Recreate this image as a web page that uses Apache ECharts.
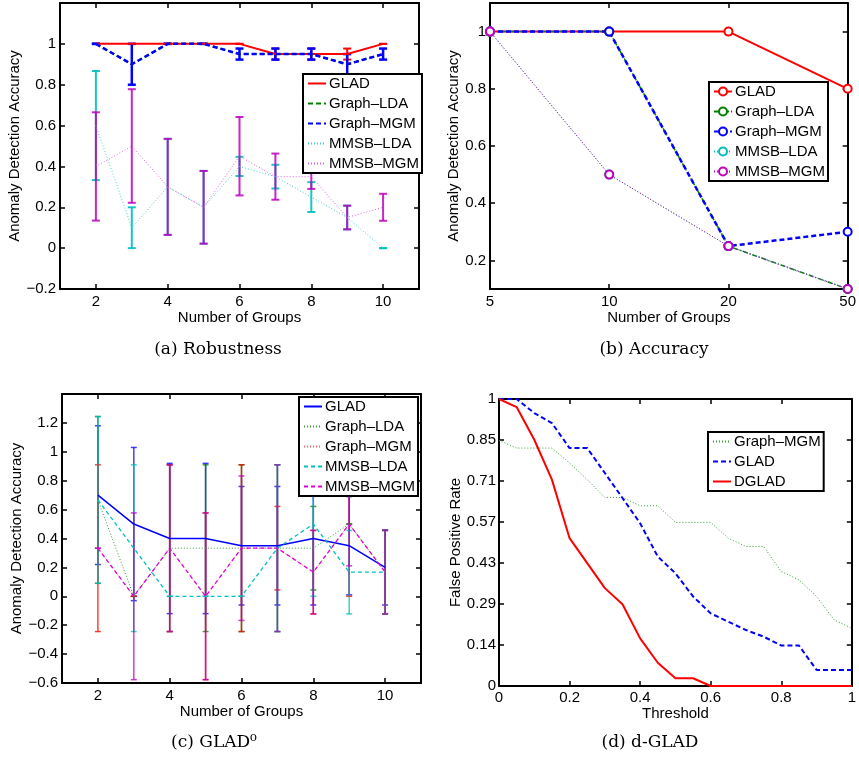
<!DOCTYPE html>
<html>
<head>
<meta charset="utf-8">
<script src="https://cdn.jsdelivr.net/npm/echarts@6/dist/echarts.min.js"></script>
<style>
  html, body { margin: 0; padding: 0; background: #fff; }
  #chart { width: 859px; height: 759px; }
</style>
</head>
<body>
<div id="chart"></div>
<script>
// ---- (a) Robustness ----
const groupsA = [2, 3, 4, 5, 6, 7, 8, 9, 10];
const gladA = [1, 1, 1, 1, 1, 0.95, 0.95, 0.95, 1];
const gladErrA = [0, 0, 0, 0, 0, 0.027, 0.027, 0.027, 0];
const graphLdaA = [1, 0.9, 1, 1, 0.95, 0.95, 0.95, 0.9, 0.95];
const graphMgmA = [1, 0.9, 1, 1, 0.95, 0.95, 0.95, 0.9, 0.95];
const graphMgmErrA = [0, 0.1, 0, 0, 0.027, 0.027, 0.027, 0.05, 0.027];
const mmsbLdaA = [0.6, 0.1, 0.3, 0.2, 0.4, 0.35, 0.25, 0.15, 0];
const mmsbLdaErrA = [0.267, 0.1, 0.235, 0.178, 0.047, 0.058, 0.073, 0.058, 0];
const mmsbMgmA = [0.4, 0.5, 0.3, 0.2, 0.45, 0.35, 0.35, 0.15, 0.2];
const mmsbMgmErrA = [0.265, 0.278, 0.235, 0.178, 0.192, 0.113, 0.06, 0.058, 0.066];

// ---- (b) Accuracy ----
const groupsB = ['5', '10', '20', '50'];
const gladB = [1, 1, 1, 0.8];
const graphLdaB = [1, 1, 0.25, 0.1];
const graphMgmB = [1, 1, 0.25, 0.3];
const mmsbLdaB = [1, 0.5, 0.25, 0.1];
const mmsbMgmB = [1, 0.5, 0.25, 0.1];

// ---- (c) GLAD0 ----
const groupsC = [2, 3, 4, 5, 6, 7, 8, 9, 10];
const gladC = [0.7, 0.5, 0.4, 0.4, 0.35, 0.35, 0.4, 0.35, 0.2];
const gladErrC = [0.48, 0.53, 0.52, 0.52, 0.41, 0.41, 0.46, 0.34, 0.26];
const graphLdaC = [0.667, 0, 0.333, 0.333, 0.333, 0.333, 0.333, 0.5, 0.167];
const graphLdaErrC = [0.577, 0, 0.577, 0.577, 0.577, 0.577, 0.289, 0, 0.289];
const graphMgmC = [0.333, 0, 0.333, 0, 0.333, 0.333, 0.167, 0.5, 0.167];
const graphMgmErrC = [0.577, 0, 0.577, 0.577, 0.577, 0.289, 0.289, 0.5, 0.289];
const mmsbLdaC = [0.667, 0.333, 0, 0, 0, 0.333, 0.5, 0.167, 0.167];
const mmsbLdaErrC = [0.577, 0.577, 0, 0, 0, 0.577, 0.5, 0.289, 0.289];
const mmsbMgmC = [0.333, 0, 0.333, 0, 0.333, 0.333, 0.167, 0.5, 0.167];
const mmsbMgmErrC = [0, 0.577, 0.577, 0.577, 0.5, 0.577, 0.289, 0.289, 0.289];

// ---- (d) d-GLAD ----
const thresholdD = [0, 0.05, 0.1, 0.15, 0.2, 0.25, 0.3, 0.35, 0.4, 0.45, 0.5,
  0.55, 0.6, 0.65, 0.7, 0.75, 0.8, 0.85, 0.9, 0.95, 1];
const graphMgmD = [0.856, 0.829, 0.829, 0.829, 0.777, 0.719, 0.657, 0.657, 0.628, 0.628, 0.57,
  0.57, 0.57, 0.515, 0.486, 0.486, 0.399, 0.37, 0.312, 0.23, 0.201];
const gladD = [1, 1, 0.951, 0.916, 0.829, 0.829, 0.742, 0.655, 0.567, 0.451, 0.393,
  0.312, 0.253, 0.224, 0.195, 0.172, 0.141, 0.141, 0.056, 0.056, 0.056];
const dgladD = [1, 0.972, 0.858, 0.719, 0.515, 0.428, 0.341, 0.285, 0.166, 0.081, 0.027,
  0.027, 0, 0, 0, 0, 0, 0, 0, 0, 0];
const yTickLabelsD = ['0', '0.14', '0.29', '0.43', '0.57', '0.71', '0.85', '1'];

const FONT = 'Liberation Sans';
const RED = '#ff0000', GREEN = '#008000', BLUE = '#0000ff', CYAN = '#00bfbf', MAG = '#bf00bf';
const DOT = [1, 2], DASH = [5, 3], DASHDOT = [5, 2, 1, 2];

const chart = echarts.init(document.getElementById('chart'));

function fmt(v) {
  return String(Math.round(v * 100) / 100).replace('-', '\u2212');
}

function axis(grid, pos, spec) {
  const main = pos === 'bottom' || pos === 'left';
  return Object.assign({
    gridIndex: grid,
    position: pos,
    axisLine: { show: true, onZero: false, lineStyle: { color: '#000', width: 2 } },
    axisTick: Object.assign({ show: true, inside: true, length: 5, lineStyle: { color: '#000', width: 1.5 } }, spec.tick || {}),
    axisLabel: Object.assign({ show: main, color: '#000', fontFamily: FONT, fontSize: 15, formatter: fmt }, spec.label || {}),
    splitLine: { show: false },
    name: main ? spec.name : '',
    nameLocation: 'middle',
    nameGap: spec.nameGap,
    nameTextStyle: { color: '#000', fontFamily: FONT, fontSize: 15 }
  }, spec.axis);
}

function pairs(xs, ys) {
  return xs.map((x, i) => [x, ys[i]]);
}

function line(name, xi, data, color, width, dash, extra) {
  return Object.assign({
    name: name, type: 'line', xAxisIndex: xi, yAxisIndex: xi, data: data,
    symbol: 'none', animation: false, silent: true,
    lineStyle: { color: color, width: width, type: dash || 'solid' },
    itemStyle: { color: color }
  }, extra || {});
}

function errBars(name, xi, xs, vals, errs, color, width, cap, opacity) {
  return {
    name: name, type: 'custom', xAxisIndex: xi, yAxisIndex: xi, silent: true, animation: false,
    data: xs.map((x, i) => [x, vals[i] - errs[i], vals[i] + errs[i]]),
    encode: { x: 0, y: [1, 2] },
    renderItem: function (params, api) {
      const lo = api.coord([api.value(0), api.value(1)]);
      const hi = api.coord([api.value(0), api.value(2)]);
      const st = { stroke: color, lineWidth: width, opacity: opacity };
      return {
        type: 'group', children: [
          { type: 'line', shape: { x1: lo[0], y1: lo[1], x2: hi[0], y2: hi[1] }, style: st },
          { type: 'line', shape: { x1: lo[0] - cap, y1: lo[1], x2: lo[0] + cap, y2: lo[1] }, style: st },
          { type: 'line', shape: { x1: hi[0] - cap, y1: hi[1], x2: hi[0] + cap, y2: hi[1] }, style: st }
        ]
      };
    }
  };
}

function legend(names, left, top, markers) {
  return {
    data: names, left: left, top: top, orient: 'vertical',
    backgroundColor: '#fff', borderColor: '#000', borderWidth: 2, borderRadius: 0,
    padding: [2, 3, 2, 4], itemWidth: 18, itemHeight: markers ? 10 : 14, itemGap: 5,
    selectedMode: false,
    itemStyle: markers ? {} : { opacity: 0 },
    textStyle: { color: '#000', fontFamily: FONT, fontSize: 15, padding: [0, 0, 0, -2] },
    formatter: n => n.slice(2)
  };
}

const xA = { type: 'value', min: 1, max: 11 };
const xTickA = { customValues: [2, 4, 6, 8, 10] };
const yA = { type: 'value', min: -0.2, max: 1.2, interval: 0.2 };
const xB = { type: 'category', data: groupsB, boundaryGap: false };
const yB = { type: 'value', min: 0.1, max: 1.1 };
const yTickB = { customValues: [0.2, 0.4, 0.6, 0.8, 1] };
const yC = { type: 'value', min: -0.6, max: 1.4, interval: 0.2 };
const xD = { type: 'value', min: 0, max: 1, interval: 0.2 };
const yTickD = { customValues: yTickLabelsD.map((s, i) => i / 7) };

const option = {
  backgroundColor: '#fff',
  animation: false,
  grid: [
    { left: 60, top: 3, width: 359, height: 286 },
    { left: 490, top: 3, width: 359, height: 286 },
    { left: 62, top: 394, width: 359, height: 289 },
    { left: 499, top: 399, width: 359, height: 287 }
  ],
  xAxis: [
    axis(0, 'bottom', { axis: xA, tick: xTickA, label: Object.assign({ margin: 5 }, xTickA), name: 'Number of Groups', nameGap: 18 }),
    axis(0, 'top', { axis: xA, tick: xTickA }),
    axis(1, 'bottom', { axis: xB, label: { margin: 5, formatter: null }, name: 'Number of Groups', nameGap: 18 }),
    axis(1, 'top', { axis: xB }),
    axis(2, 'bottom', { axis: xA, tick: xTickA, label: Object.assign({ margin: 5 }, xTickA), name: 'Number of Groups', nameGap: 15 }),
    axis(2, 'top', { axis: xA, tick: xTickA }),
    axis(3, 'bottom', { axis: xD, label: { margin: 4 }, name: 'Threshold', nameGap: 17 }),
    axis(3, 'top', { axis: xD })
  ],
  yAxis: [
    axis(0, 'left', { axis: yA, label: { margin: 4, showMaxLabel: false }, name: 'Anomaly Detection Accuracy', nameGap: 31 }),
    axis(0, 'right', { axis: yA }),
    axis(1, 'left', { axis: yB, tick: yTickB, label: Object.assign({ margin: 4 }, yTickB), name: 'Anomaly Detection Accuracy', nameGap: 20 }),
    axis(1, 'right', { axis: yB, tick: yTickB }),
    axis(2, 'left', { axis: yC, label: { margin: 4, showMaxLabel: false }, name: 'Anomaly Detection Accuracy', nameGap: 33 }),
    axis(2, 'right', { axis: yC }),
    axis(3, 'left', { axis: { type: 'value', min: 0, max: 1 }, tick: yTickD,
      label: Object.assign({ margin: 3, formatter: v => yTickLabelsD[Math.round(v * 7)] }, yTickD),
      name: 'False Positive Rate', nameGap: 32 }),
    axis(3, 'right', { axis: { type: 'value', min: 0, max: 1 }, tick: yTickD })
  ],
  legend: [
    legend(['a:GLAD', 'a:Graph\u2013LDA', 'a:Graph\u2013MGM', 'a:MMSB\u2013LDA', 'a:MMSB\u2013MGM'], 303, 74, false),
    legend(['b:GLAD', 'b:Graph\u2013LDA', 'b:Graph\u2013MGM', 'b:MMSB\u2013LDA', 'b:MMSB\u2013MGM'], 709, 82, true),
    legend(['c:GLAD', 'c:Graph\u2013LDA', 'c:Graph\u2013MGM', 'c:MMSB\u2013LDA', 'c:MMSB\u2013MGM'], 299, 397, false),
    legend(['d:Graph\u2013MGM', 'd:GLAD', 'd:DGLAD'], 708, 432, false)
  ],
  series: [
    // (a)
    line('a:GLAD', 0, pairs(groupsA, gladA), RED, 2),
    errBars('ea1', 0, groupsA, gladA, gladErrA, RED, 2, 4, 1),
    line('a:Graph\u2013LDA', 0, pairs(groupsA, graphLdaA), GREEN, 2, DASH),
    line('a:Graph\u2013MGM', 0, pairs(groupsA, graphMgmA), BLUE, 2.5, DASH),
    errBars('ea2', 0, groupsA, graphMgmA, graphMgmErrA, BLUE, 2.5, 4, 1),
    line('a:MMSB\u2013LDA', 0, pairs(groupsA, mmsbLdaA), '#40d0d0', 1, DOT),
    errBars('ea3', 0, groupsA, mmsbLdaA, mmsbLdaErrA, CYAN, 2, 4, 0.9),
    line('a:MMSB\u2013MGM', 0, pairs(groupsA, mmsbMgmA), '#e060e0', 1, DOT),
    errBars('ea4', 0, groupsA, mmsbMgmA, mmsbMgmErrA, MAG, 2, 4, 0.85),
    // (b)
    line('b:GLAD', 2, gladB, RED, 2, 'solid', { symbol: 'emptyCircle', symbolSize: 8, itemStyle: { color: RED, borderWidth: 1.5 } }),
    line('b:Graph\u2013LDA', 2, graphLdaB, GREEN, 1.5, DASHDOT, { symbol: 'emptyCircle', symbolSize: 8, itemStyle: { color: GREEN, borderWidth: 1.5 } }),
    line('b:Graph\u2013MGM', 2, graphMgmB, BLUE, 2.5, DASH, { symbol: 'emptyCircle', symbolSize: 8, itemStyle: { color: BLUE, borderWidth: 1.5 } }),
    line('b:MMSB\u2013LDA', 2, mmsbLdaB, CYAN, 1, DOT, { symbol: 'emptyCircle', symbolSize: 8, itemStyle: { color: CYAN, borderWidth: 1.5 } }),
    line('b:MMSB\u2013MGM', 2, mmsbMgmB, MAG, 1, DOT, { symbol: 'emptyCircle', symbolSize: 8, itemStyle: { color: MAG, borderWidth: 1.5 } }),
    // (c)
    line('c:GLAD', 4, pairs(groupsC, gladC), BLUE, 1.5),
    errBars('ec1', 4, groupsC, gladC, gladErrC, BLUE, 1.5, 3, 0.75),
    line('c:Graph\u2013LDA', 4, pairs(groupsC, graphLdaC), '#33a033', 1, DOT),
    errBars('ec2', 4, groupsC, graphLdaC, graphLdaErrC, GREEN, 1.5, 3, 0.75),
    line('c:Graph\u2013MGM', 4, pairs(groupsC, graphMgmC), '#ff6060', 1, DOT),
    errBars('ec3', 4, groupsC, graphMgmC, graphMgmErrC, RED, 1.5, 3, 0.75),
    line('c:MMSB\u2013LDA', 4, pairs(groupsC, mmsbLdaC), CYAN, 1.3, [4, 3]),
    errBars('ec4', 4, groupsC, mmsbLdaC, mmsbLdaErrC, CYAN, 1.5, 3, 0.75),
    line('c:MMSB\u2013MGM', 4, pairs(groupsC, mmsbMgmC), '#dd00dd', 1.3, [4, 3]),
    errBars('ec5', 4, groupsC, mmsbMgmC, mmsbMgmErrC, MAG, 1.5, 3, 0.75),
    // (d)
    line('d:Graph\u2013MGM', 6, pairs(thresholdD, graphMgmD), '#33a033', 1, DOT),
    line('d:GLAD', 6, pairs(thresholdD, gladD), BLUE, 2, DASH),
    line('d:DGLAD', 6, pairs(thresholdD, dgladD), RED, 2)
  ],
  graphic: [
    { type: 'text', x: 218, y: 350, style: { text: '(a) Robustness', font: '17px "DejaVu Serif"', fill: '#000', align: 'center', verticalAlign: 'middle' } },
    { type: 'text', x: 654, y: 350, style: { text: '(b) Accuracy', font: '17px "DejaVu Serif"', fill: '#000', align: 'center', verticalAlign: 'middle' } },
    { type: 'text', x: 214, y: 743, style: { text: '(c) GLAD\u2070', font: '17px "DejaVu Serif"', fill: '#000', align: 'center', verticalAlign: 'middle' } },
    { type: 'text', x: 650, y: 743, style: { text: '(d) d-GLAD', font: '17px "DejaVu Serif"', fill: '#000', align: 'center', verticalAlign: 'middle' } }
  ]
};

chart.setOption(option);
</script>
</body>
</html>
